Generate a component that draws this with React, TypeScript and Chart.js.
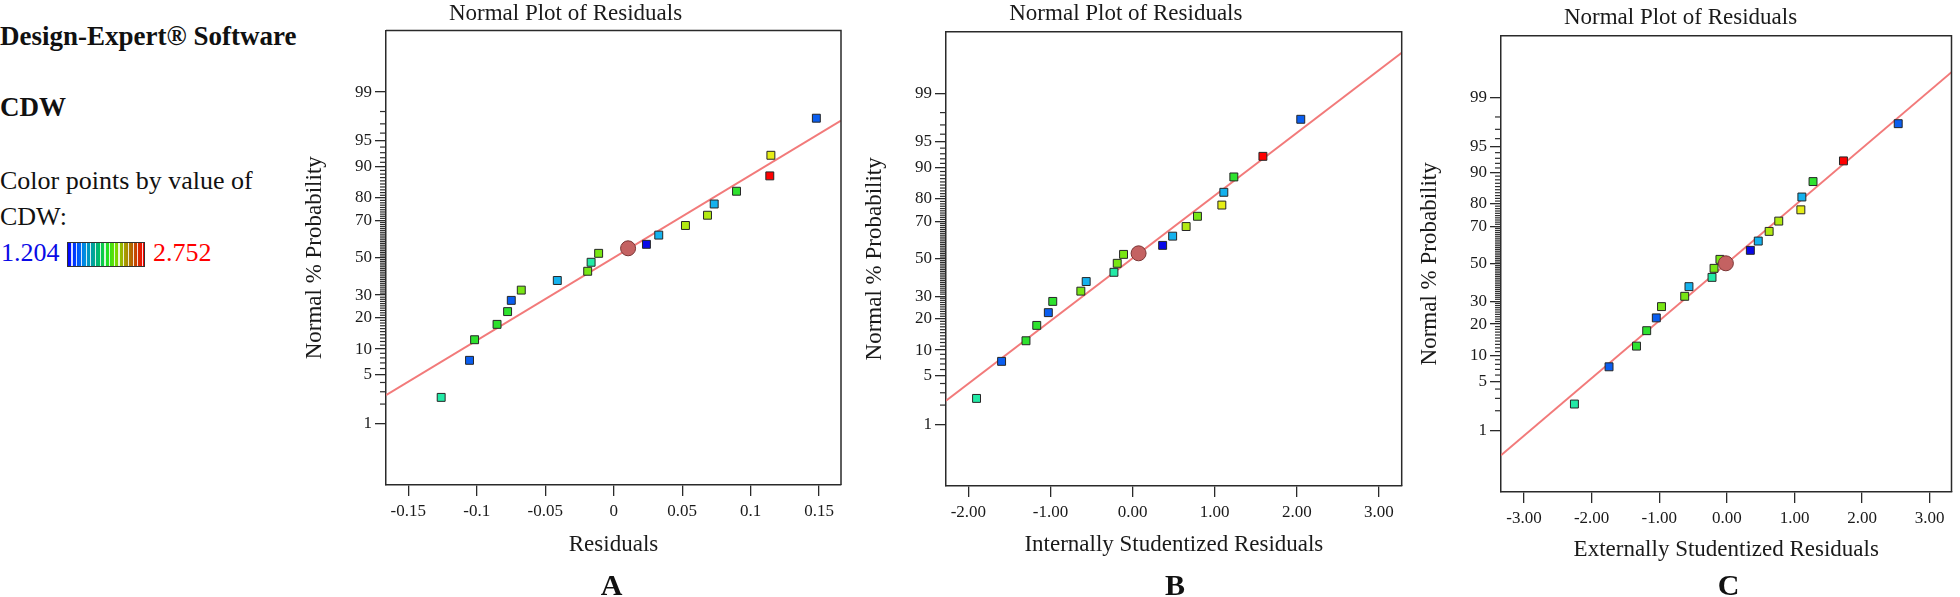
import React, { useEffect, useRef } from 'react';
import { Chart, registerables } from 'chart.js';

Chart.register(...registerables);

// ---------------- DATA ----------------
// normal-probability rank positions (%) for the 20 ordered residuals
const probRanks = [2.5, 7.5, 12.5, 17.5, 22.5, 27.5, 32.5, 37.5, 42.5, 47.5, 52.5, 57.5, 62.5, 67.5, 72.5, 77.5, 82.5, 87.5, 92.5, 97.5];

// y-axis labelled probabilities
const probTickValues = [1, 5, 10, 20, 30, 50, 70, 80, 90, 95, 99];
const probTickLabels = ['1', '5', '10', '20', '30', '50', '70', '80', '90', '95', '99'];

// palette for "Color points by value of CDW"
const BLUE = '#0808e8';
const BLUE2 = '#0a5ef0';
const CYAN = '#14b2ee';
const TEAL = '#22eaa6';
const GREEN = '#2ee22e';
const LIME = '#78e614';
const CHART = '#b2ea12';
const YELLOW = '#e6ee16';
const RED = '#ff0000';

// Panel A : Residuals
const residualsA = [-0.1260, -0.1053, -0.1016, -0.0852, -0.0775, -0.0748, -0.0675, -0.0412, -0.0190, -0.0165, -0.0110, 0.0239, 0.0329, 0.0524, 0.0685, 0.0734, 0.0897, 0.1140, 0.1148, 0.1480];
const colorsA = [TEAL, BLUE2, GREEN, GREEN, GREEN, BLUE2, LIME, CYAN, LIME, TEAL, LIME, BLUE, CYAN, CHART, CHART, CYAN, GREEN, RED, YELLOW, BLUE2];
const circleA = [0.0105, 55.3];
const lineA = [[-0.1663, 2.68], [0.1660, 97.29]];
const xTicksA = [-0.15, -0.1, -0.05, 0, 0.05, 0.1, 0.15];
const xTickLabelsA = ['-0.15', '-0.1', '-0.05', '0', '0.05', '0.1', '0.15'];

// Panel B : Internally Studentized Residuals
const residualsB = [-1.900, -1.595, -1.298, -1.167, -1.026, -0.972, -0.630, -0.565, -0.227, -0.187, -0.110, 0.366, 0.488, 0.652, 0.790, 1.087, 1.111, 1.233, 1.587, 2.048];
const colorsB = [TEAL, BLUE2, GREEN, GREEN, BLUE2, GREEN, LIME, CYAN, TEAL, LIME, LIME, BLUE, CYAN, CHART, LIME, YELLOW, CYAN, GREEN, RED, BLUE2];
const circleB = [0.073, 53.1];
const lineB = [[-2.272, 2.32], [3.277, 99.81]];
const xTicksB = [-2, -1, 0, 1, 2, 3];
const xTickLabelsB = ['-2.00', '-1.00', '0.00', '1.00', '2.00', '3.00'];

// Panel C : Externally Studentized Residuals
const residualsC = [-2.255, -1.743, -1.337, -1.186, -1.044, -0.967, -0.624, -0.561, -0.220, -0.190, -0.103, 0.347, 0.464, 0.625, 0.767, 1.094, 1.109, 1.274, 1.724, 2.534];
const colorsC = [TEAL, BLUE2, GREEN, GREEN, BLUE2, LIME, LIME, CYAN, TEAL, LIME, LIME, BLUE, CYAN, CHART, CHART, YELLOW, CYAN, GREEN, RED, BLUE2];
const circleC = [-0.015, 50.3];
const lineC = [[-3.341, 0.373], [3.322, 99.632]];
const xTicksC = [-3, -2, -1, 0, 1, 2, 3];
const xTickLabelsC = ['-3.00', '-2.00', '-1.00', '0.00', '1.00', '2.00', '3.00'];

// ---------------- HELPERS ----------------
const FONT = '"Liberation Serif", "Times New Roman", serif';

// inverse standard normal CDF (Acklam), input in percent
function probit(pct: number): number {
  const p = pct / 100;
  const a = [-3.969683028665376e1, 2.209460984245205e2, -2.759285104469687e2, 1.38357751867269e2, -3.066479806614716e1, 2.506628277459239];
  const b = [-5.447609879822406e1, 1.615858368580409e2, -1.556989798598866e2, 6.680131188771972e1, -1.328068155288572e1];
  const c = [-7.784894002430293e-3, -3.223964580411365e-1, -2.400758277161838, -2.549732539343734, 4.374664141464968, 2.938163982698783];
  const d = [7.784695709041462e-3, 3.224671290700398e-1, 2.445134137142996, 3.754408661907416];
  const pLow = 0.02425;
  if (p < pLow) {
    const q = Math.sqrt(-2 * Math.log(p));
    return (((((c[0] * q + c[1]) * q + c[2]) * q + c[3]) * q + c[4]) * q + c[5]) / ((((d[0] * q + d[1]) * q + d[2]) * q + d[3]) * q + 1);
  }
  if (p <= 1 - pLow) {
    const q = p - 0.5;
    const r = q * q;
    return ((((((a[0] * r + a[1]) * r + a[2]) * r + a[3]) * r + a[4]) * r + a[5]) * q) / (((((b[0] * r + b[1]) * r + b[2]) * r + b[3]) * r + b[4]) * r + 1);
  }
  const q = Math.sqrt(-2 * Math.log(1 - p));
  return -(((((c[0] * q + c[1]) * q + c[2]) * q + c[3]) * q + c[4]) * q + c[5]) / ((((d[0] * q + d[1]) * q + d[2]) * q + d[3]) * q + 1);
}

const minorProbTicks: number[] = [];
for (let v = 1; v <= 99; v++) if (probTickValues.indexOf(v) < 0) minorProbTicks.push(v);

const AXIS_COLOR = '#2a2a2a';
const TEXT_COLOR = '#1a1a1a';

const framePlugin = {
  id: 'frameTopRight',
  afterDatasetsDraw(chart: any) {
    const { ctx, chartArea } = chart;
    const { left, top, right, bottom } = chartArea;
    ctx.save();
    ctx.strokeStyle = AXIS_COLOR;
    ctx.lineWidth = 1.5;
    ctx.beginPath();
    ctx.moveTo(left, top);
    ctx.lineTo(right, top);
    ctx.lineTo(right, bottom);
    ctx.stroke();
    ctx.restore();
  },
};

const minorTickPlugin = {
  id: 'minorProbTicks',
  afterDraw(chart: any) {
    const ctx = chart.ctx;
    const left = chart.chartArea.left;
    const ys = chart.scales.y;
    ctx.save();
    ctx.fillStyle = '#2e2e2e';
    for (let k = 0; k < minorProbTicks.length; k++) {
      const y = ys.getPixelForValue(probit(minorProbTicks[k]));
      ctx.fillRect(left - 6, y - 0.6, 6, 1.2);
    }
    ctx.restore();
  },
};

type PanelCfg = {
  left: number; width: number; padRight: number; titlePadTop: number; titlePadBottom: number;
  xAxisHeight: number; xTitlePadBottom: number; xMin: number; xMax: number; xTitle: string;
  resid: number[]; colors: string[]; circle: number[]; line: number[][]; xTicks: number[]; xTickLabels: string[];
};

const panels: PanelCfg[] = [
  {
    left: 290, width: 560, padRight: 9, titlePadTop: 0, titlePadBottom: 3, xAxisHeight: 112, xTitlePadBottom: 38.2,
    xMin: -0.1663, xMax: 0.166, xTitle: 'Residuals',
    resid: residualsA, colors: colorsA, circle: circleA, line: lineA, xTicks: xTicksA, xTickLabels: xTickLabelsA,
  },
  {
    left: 850, width: 561, padRight: 9.3, titlePadTop: 0.5, titlePadBottom: 3.6, xAxisHeight: 111, xTitlePadBottom: 38.2,
    xMin: -2.272, xMax: 3.277, xTitle: 'Internally Studentized Residuals',
    resid: residualsB, colors: colorsB, circle: circleB, line: lineB, xTicks: xTicksB, xTickLabels: xTickLabelsB,
  },
  {
    left: 1405, width: 555, padRight: 4, titlePadTop: 4.2, titlePadBottom: 3.9, xAxisHeight: 105, xTitlePadBottom: 33.2,
    xMin: -3.341, xMax: 3.322, xTitle: 'Externally Studentized Residuals',
    resid: residualsC, colors: colorsC, circle: circleC, line: lineC, xTicks: xTicksC, xTickLabels: xTickLabelsC,
  },
];

const Z_LIMIT = 3.19;

function buildConfig(cfg: PanelCfg): any {
  return {
    type: 'scatter',
    data: {
      datasets: [
        {
          type: 'line',
          data: cfg.line.map(([x, p]) => ({ x, y: probit(p) })),
          borderColor: '#f27a7a', borderWidth: 2, pointRadius: 0, fill: false, tension: 0, order: 3,
        },
        {
          type: 'scatter',
          data: cfg.resid.map((x, i) => ({ x, y: probit(probRanks[i]) })),
          pointStyle: 'rect', pointRadius: 5.6, pointBackgroundColor: cfg.colors,
          pointBorderColor: '#262626', pointBorderWidth: 1, order: 2,
        },
        {
          type: 'scatter',
          data: [{ x: cfg.circle[0], y: probit(cfg.circle[1]) }],
          pointStyle: 'circle', pointRadius: 7.5, pointBackgroundColor: '#c46262',
          pointBorderColor: '#7a3434', pointBorderWidth: 1, order: 1,
        },
      ],
    },
    options: {
      responsive: false,
      animation: false,
      events: [],
      layout: { padding: { left: 0, right: cfg.padRight, top: 0, bottom: 0 } },
      plugins: {
        legend: { display: false },
        tooltip: { enabled: false },
        title: {
          display: true, text: 'Normal Plot of Residuals', color: TEXT_COLOR,
          font: { family: FONT, size: 23, weight: 'normal' },
          padding: { top: cfg.titlePadTop, bottom: cfg.titlePadBottom },
        },
      },
      scales: {
        x: {
          type: 'linear', position: 'bottom', min: cfg.xMin, max: cfg.xMax,
          afterBuildTicks: (scale: any) => { scale.ticks = cfg.xTicks.map((v) => ({ value: v })); },
          afterFit: (scale: any) => { scale.height = cfg.xAxisHeight; },
          ticks: {
            autoSkip: false, maxRotation: 0, padding: 5, color: TEXT_COLOR,
            font: { family: FONT, size: 17 },
            callback: (_v: any, i: number) => cfg.xTickLabels[i],
          },
          grid: { display: true, drawOnChartArea: false, drawTicks: true, tickLength: 11, color: AXIS_COLOR, lineWidth: 1.3 },
          border: { display: true, color: AXIS_COLOR, width: 1.5 },
          title: {
            display: true, text: cfg.xTitle, color: TEXT_COLOR,
            font: { family: FONT, size: 23 }, padding: { top: 0, bottom: cfg.xTitlePadBottom },
          },
        },
        y: {
          type: 'linear', min: -Z_LIMIT, max: Z_LIMIT,
          afterBuildTicks: (scale: any) => { scale.ticks = probTickValues.map((p) => ({ value: probit(p) })); },
          afterFit: (scale: any) => { scale.width = 96; },
          ticks: {
            autoSkip: false, padding: 3, color: TEXT_COLOR, font: { family: FONT, size: 17 },
            callback: (_v: any, i: number) => probTickLabels[i],
          },
          grid: { display: true, drawOnChartArea: false, drawTicks: true, tickLength: 11, color: AXIS_COLOR, lineWidth: 1.3 },
          border: { display: true, color: AXIS_COLOR, width: 1.5 },
          title: {
            display: true, text: 'Normal % Probability', color: TEXT_COLOR,
            font: { family: FONT, size: 23 }, padding: { top: 11.2, bottom: 0 },
          },
        },
      },
    },
    plugins: [framePlugin, minorTickPlugin],
  };
}

function Panel({ cfg }: { cfg: PanelCfg }) {
  const ref = useRef<HTMLCanvasElement | null>(null);
  useEffect(() => {
    if (!ref.current) return;
    const chart = new Chart(ref.current, buildConfig(cfg));
    return () => chart.destroy();
  }, [cfg]);
  return (
    <canvas ref={ref} width={cfg.width} height={597}
      style={{ position: 'absolute', left: cfg.left, top: 0, width: cfg.width, height: 597 }} />
  );
}

// baseline-positioned text helper (line-height 1, Liberation Serif ascent 0.891 / descent 0.216)
function TextAt({ x, baseline, size, bold, color, children, center }: any) {
  const top = baseline - 0.8375 * size;
  const style: any = {
    position: 'absolute', top, fontFamily: FONT, fontSize: size, lineHeight: `${size}px`,
    fontWeight: bold ? 'bold' : 'normal', color: color || '#111', whiteSpace: 'nowrap',
  };
  if (center) { style.left = x - 100; style.width = 200; style.textAlign = 'center'; } else { style.left = x; }
  return <div style={style}>{children}</div>;
}

const panelLetters = ['A', 'B', 'C'];
const letterCenters = [611.5, 1175, 1728.5];

export default function App() {
  useEffect(() => {
    document.body.style.margin = '0';
    document.body.style.overflow = 'hidden';
  }, []);
  return (
    <div style={{ position: 'absolute', left: 0, top: 0, width: 1960, height: 597, background: '#ffffff', overflow: 'hidden' }}>
      <TextAt x={0} baseline={46} size={27} bold>Design-Expert® Software</TextAt>
      <TextAt x={0} baseline={117} size={27} bold>CDW</TextAt>
      <TextAt x={0} baseline={190} size={26}>Color points by value of</TextAt>
      <TextAt x={0} baseline={226} size={26}>CDW:</TextAt>
      <TextAt x={1} baseline={262} size={26} color="#0a0ae6">1.204</TextAt>
      <div
        style={{
          position: 'absolute', left: 67, top: 242, width: 76, height: 23, border: '1px solid #333',
          background:
            'repeating-linear-gradient(to right, rgba(0,0,0,0) 0px, rgba(0,0,0,0) 3.5px, rgba(255,255,255,0.85) 3.5px, rgba(255,255,255,0.85) 4.7px), linear-gradient(to right, #0000ff 0%, #0050ff 12%, #0090e0 22%, #00a0a0 32%, #00c060 42%, #20e020 52%, #70e000 62%, #a0b000 72%, #b07000 82%, #d03000 92%, #ff0000 100%)',
        }}
      />
      <TextAt x={153} baseline={262} size={26} color="#ff0000">2.752</TextAt>
      {panels.map((p, i) => (<Panel key={i} cfg={p} />))}
      {panelLetters.map((l, i) => (
        <TextAt key={l} x={letterCenters[i]} baseline={595} size={30} bold center>{l}</TextAt>
      ))}
    </div>
  );
}
